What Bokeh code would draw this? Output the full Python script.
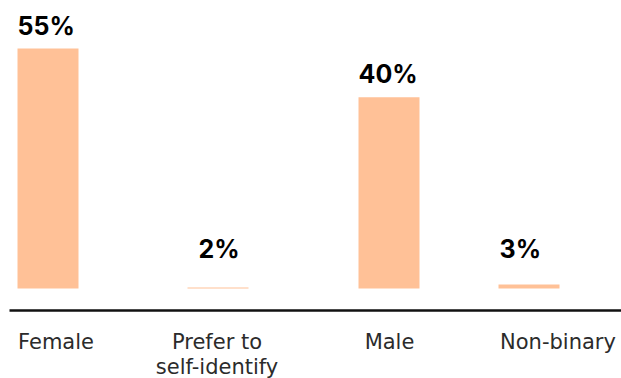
from bokeh.plotting import figure
from bokeh.models import ColumnDataSource, Range1d, LabelSet
from bokeh.embed import file_html
from bokeh.resources import INLINE
from bokeh.core.properties import value
import numpy as np

# ---- data ----
categories = ["Female", "Prefer to\nself-identify", "Male", "Non-binary"]
value_labels = ["55%", "2%", "40%", "3%"]
bar_heights = [55, 0.25, 43.8, 0.9]   # bar heights (% scale)

# ---- layout (x in px-like units) ----
W, H = 621, 378
baseline_px = 288          # bar baseline, px from top
px_per_unit = 240 / 55     # vertical scale
first_center = 47.5
slot_gaps = [170, 171, 140]
bar_width = 61
label_shift = [8, -1, 0.5, 29]        # category label offset from bar centre
value_label_dx = [0, 11, 0, 1]        # value label offset from bar left edge
min_label_level = 3.8                 # labels of tiny bars sit at this level
axis_gap_px = 22                      # axis line below bar baseline
cat_label_drop = 38                   # first line baseline below axis line
cat_line_step = 25                    # line spacing of category labels

y_end = baseline_px / px_per_unit
y_start = -(H - baseline_px) / px_per_unit
axis_y = -axis_gap_px / px_per_unit

centers = first_center + np.concatenate([[0], np.cumsum(slot_gaps)])
label_y = np.maximum(np.array(bar_heights, dtype=float), min_label_level)

src = ColumnDataSource(dict(
    x=centers,
    top=bar_heights,
    left=centers - bar_width / 2 + np.array(value_label_dx),
    ly=label_y,
    txt=value_labels,
))

p = figure(width=W, height=H, output_backend="svg", toolbar_location=None,
           x_range=Range1d(0, W), y_range=Range1d(y_start, y_end),
           min_border_left=0, min_border_right=0, min_border_top=0, min_border_bottom=0)
p.outline_line_color = None
p.xgrid.visible = False
p.ygrid.visible = False
p.xaxis.visible = False
p.yaxis.visible = False
p.background_fill_color = "white"
p.border_fill_color = "white"

p.vbar(x="x", top="top", bottom=0, width=bar_width, source=src,
       fill_color="#FFC197", line_color=None)

# axis line
p.segment(x0=9, x1=W, y0=axis_y, y1=axis_y, line_color="#111111", line_width=2.5)

labels = LabelSet(x="left", y="ly", text="txt", source=src,
                  text_align="left", text_baseline="alphabetic", y_offset=14,
                  text_font=value("Inter"), text_font_style="bold",
                  text_font_size="25px", text_color="#000000")
p.add_layout(labels)

# category labels (one label per text line)
cx, cy, ct, coff = [], [], [], []
for c, s, name in zip(centers, label_shift, categories):
    for i, line in enumerate(name.split("\n")):
        cx.append(c + s)
        cy.append(axis_y)
        ct.append(line)
        coff.append(-cat_label_drop - i * cat_line_step)
cat_src = ColumnDataSource(dict(x=cx, y=cy, t=ct, off=coff))
cat_labels = LabelSet(x="x", y="y", text="t", y_offset="off", source=cat_src,
                      text_align="center", text_baseline="alphabetic",
                      text_font=value("DejaVu Sans"), text_font_size="21px",
                      text_color="#2b2b2b")
p.add_layout(cat_labels)

open("out.html", "w").write(file_html(p, INLINE))
